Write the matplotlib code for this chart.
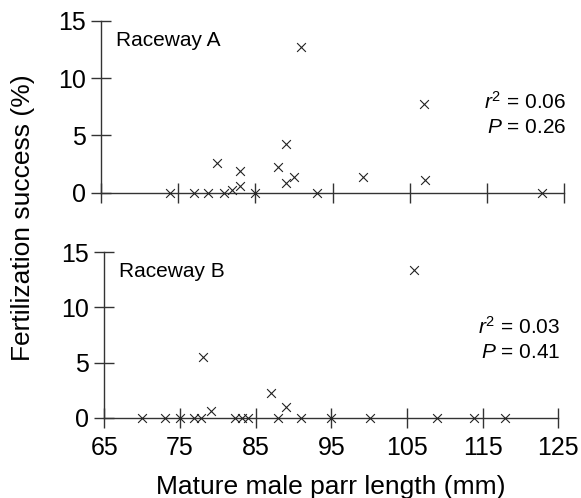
import matplotlib
matplotlib.use('Agg')
import matplotlib.pyplot as plt

plt.rcParams['font.family'] = ['Liberation Sans', 'DejaVu Sans']
plt.rcParams['mathtext.fontset'] = 'custom'
plt.rcParams['mathtext.rm'] = 'Liberation Sans'
plt.rcParams['mathtext.it'] = 'Liberation Sans:italic'

# Raceway A
a_len = [73.9, 77.0, 78.9, 80.9, 82.0, 83.0, 83.0, 80.0, 85.0, 87.9,
         89.0, 89.0, 90.0, 90.9, 93.0, 98.9, 106.9, 107.0, 122.1]
a_fert = [0, 0, 0, 0, 0.24, 0.6, 1.9, 2.56, 0, 2.27,
          4.25, 0.87, 1.4, 12.73, 0, 1.4, 7.73, 1.1, 0]

# Raceway B
b_len = [70.0, 73.0, 75.0, 76.9, 77.8, 78.0, 79.1, 82.3, 83.2, 84.0,
         87.0, 88.0, 89.0, 91.0, 95.0, 100.1, 105.9, 109.0, 113.9, 117.9]
b_fert = [0, 0, 0, 0, 0, 5.5, 0.64, 0, 0, 0,
          2.27, 0, 1.0, 0, 0, 0, 13.36, 0, 0, 0]

x_ticks = [65, 75, 85, 95, 105, 115, 125]
y_ticks = [0, 5, 10, 15]

panels = [
    ('Raceway A', a_len, a_fert, '$r^{2}$ = 0.06', '$P$ = 0.26'),
    ('Raceway B', b_len, b_fert, '$r^{2}$ = 0.03', '$P$ = 0.41'),
]

fig = plt.figure(figsize=(5.81, 4.98), dpi=100)
ax1 = fig.add_axes([0.1742, 0.6131, 0.7966, 0.3454])
ax2 = fig.add_axes([0.1795, 0.1612, 0.7814, 0.3321])

text_y = [(0.853, 0.49, 0.349), (0.849, 0.51, 0.359)]

for i, (ax, (name, xs, ys, rtxt, ptxt)) in enumerate(zip([ax1, ax2], panels)):
    ax.scatter(xs, ys, marker='x', s=40, linewidths=0.8, color='#222222',
               clip_on=False, zorder=3)
    ax.set_xlim(65, 125)
    ax.set_ylim(0, 15)
    ax.set_xticks(x_ticks)
    ax.set_yticks(y_ticks)
    for s in ['top', 'right']:
        ax.spines[s].set_visible(False)
    for s in ['left', 'bottom']:
        ax.spines[s].set_linewidth(1.0)
        ax.spines[s].set_color('#333333')
    ax.tick_params(direction='inout', length=14, width=1.0, color='#333333',
                   labelsize=18, pad=4)
    ax.tick_params(axis='x', pad=6)
    ty, ry, py = text_y[i]
    ax.text(0.032, ty, name, transform=ax.transAxes, fontsize=15,
            va='baseline', ha='left')
    ax.text(1.005, ry, rtxt, transform=ax.transAxes, fontsize=15,
            va='baseline', ha='right')
    ax.text(1.005, py, ptxt, transform=ax.transAxes, fontsize=15,
            va='baseline', ha='right')

ax1.tick_params(axis='x', labelbottom=False)

fig.text(0.04, 0.562, 'Fertilization success (%)', rotation=90,
         fontsize=19, ha='center', va='center')
fig.text(0.569, 0.008, 'Mature male parr length (mm)', fontsize=19,
         ha='center', va='baseline')

fig.savefig('out.png', dpi=100)
